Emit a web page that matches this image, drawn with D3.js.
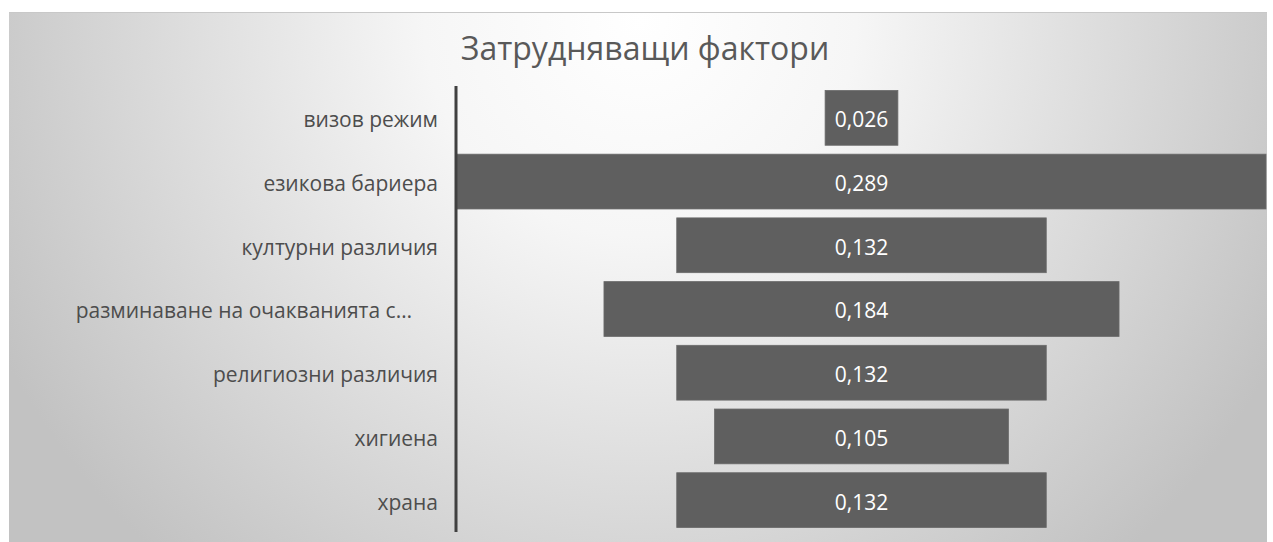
<!DOCTYPE html>
<html>
<head>
<meta charset="utf-8">
<script src="https://cdn.jsdelivr.net/npm/d3@7"></script>
<style>
  html, body { margin: 0; padding: 0; background: #ffffff; }
  svg { display: block; }
</style>
</head>
<body>
<svg id="chart" width="1273" height="542"></svg>
<script>
const title = "Затрудняващи фактори";
const categories = ["визов режим", "езикова бариера", "културни различия", "разминаване на очакванията с…", "религиозни различия", "хигиена", "храна"];
const values = [0.026, 0.289, 0.132, 0.184, 0.132, 0.105, 0.132];
const valueLabels = ["0,026", "0,289", "0,132", "0,184", "0,132", "0,105", "0,132"];

const W = 1273, H = 542;
const svg = d3.select("#chart");
const defs = svg.append("defs");
const grad = defs.append("radialGradient")
  .attr("id", "bg").attr("gradientUnits", "userSpaceOnUse")
  .attr("cx", 640).attr("cy", 20).attr("r", 720)
  .attr("fx", 640).attr("fy", 20);
grad.append("stop").attr("offset", "0").attr("stop-color", "#ffffff");
grad.append("stop").attr("offset", "0.3").attr("stop-color", "#f6f6f6");
grad.append("stop").attr("offset", "1").attr("stop-color", "#c2c2c2");

// chart area
const area = { x0: 9, y0: 12, x1: 1267, y1: 542 };
svg.append("rect")
  .attr("x", area.x0).attr("y", area.y0)
  .attr("width", area.x1 - area.x0).attr("height", area.y1 - area.y0)
  .attr("fill", "url(#bg)");
svg.append("line")
  .attr("x1", area.x0).attr("x2", area.x1)
  .attr("y1", area.y0 + 0.5).attr("y2", area.y0 + 0.5)
  .attr("stroke", "#c8c8c8").attr("stroke-width", 1);

// title
svg.append("text")
  .attr("x", 645).attr("y", 60)
  .attr("text-anchor", "middle")
  .attr("font-family", "'Open Sans', sans-serif")
  .attr("font-size", 32)
  .attr("fill", "#595959")
  .text(title);

// plot
const plot = { left: 457, right: 1266, top: 86, bottom: 532 };
const center = (plot.left + plot.right) / 2;
const y = d3.scaleBand().domain(categories).range([plot.top, plot.bottom]).paddingInner(0.14).paddingOuter(0.07);
const w = d3.scaleLinear().domain([0, d3.max(values)]).range([0, plot.right - plot.left]);

const data = categories.map((c, i) => ({ c, v: values[i], l: valueLabels[i] }));

svg.append("g").selectAll("rect").data(data).join("rect")
  .attr("x", d => center - w(d.v) / 2)
  .attr("y", d => y(d.c))
  .attr("width", d => w(d.v))
  .attr("height", y.bandwidth())
  .attr("fill", "#5f5f5f")
  .attr("stroke", "#6a6a6a").attr("stroke-width", 0.8);

svg.append("g").selectAll("text").data(data).join("text")
  .attr("x", center)
  .attr("y", d => y(d.c) + y.bandwidth() / 2)
  .attr("dy", "0.45em")
  .attr("text-anchor", "middle")
  .attr("font-family", "'Open Sans', sans-serif")
  .attr("font-size", 21)
  .attr("fill", "#ffffff")
  .text(d => d.l);

// axis
const axis = d3.axisLeft(y).tickSize(0).tickPadding(18);
const ag = svg.append("g").attr("transform", `translate(${plot.left - 1},0)`).call(axis);
ag.select(".domain").attr("stroke", "#404040").attr("stroke-width", 3)
  .attr("d", `M0,${plot.top}V${plot.bottom}`);
ag.selectAll(".tick text")
  .attr("dy", "0.45em")
  .attr("font-family", "'Open Sans', sans-serif")
  .attr("font-size", 21)
  .attr("fill", "#4d4d4d");
ag.selectAll(".tick").filter(d => d === categories[3]).select("text").attr("dx", -26);
</script>
</body>
</html>
